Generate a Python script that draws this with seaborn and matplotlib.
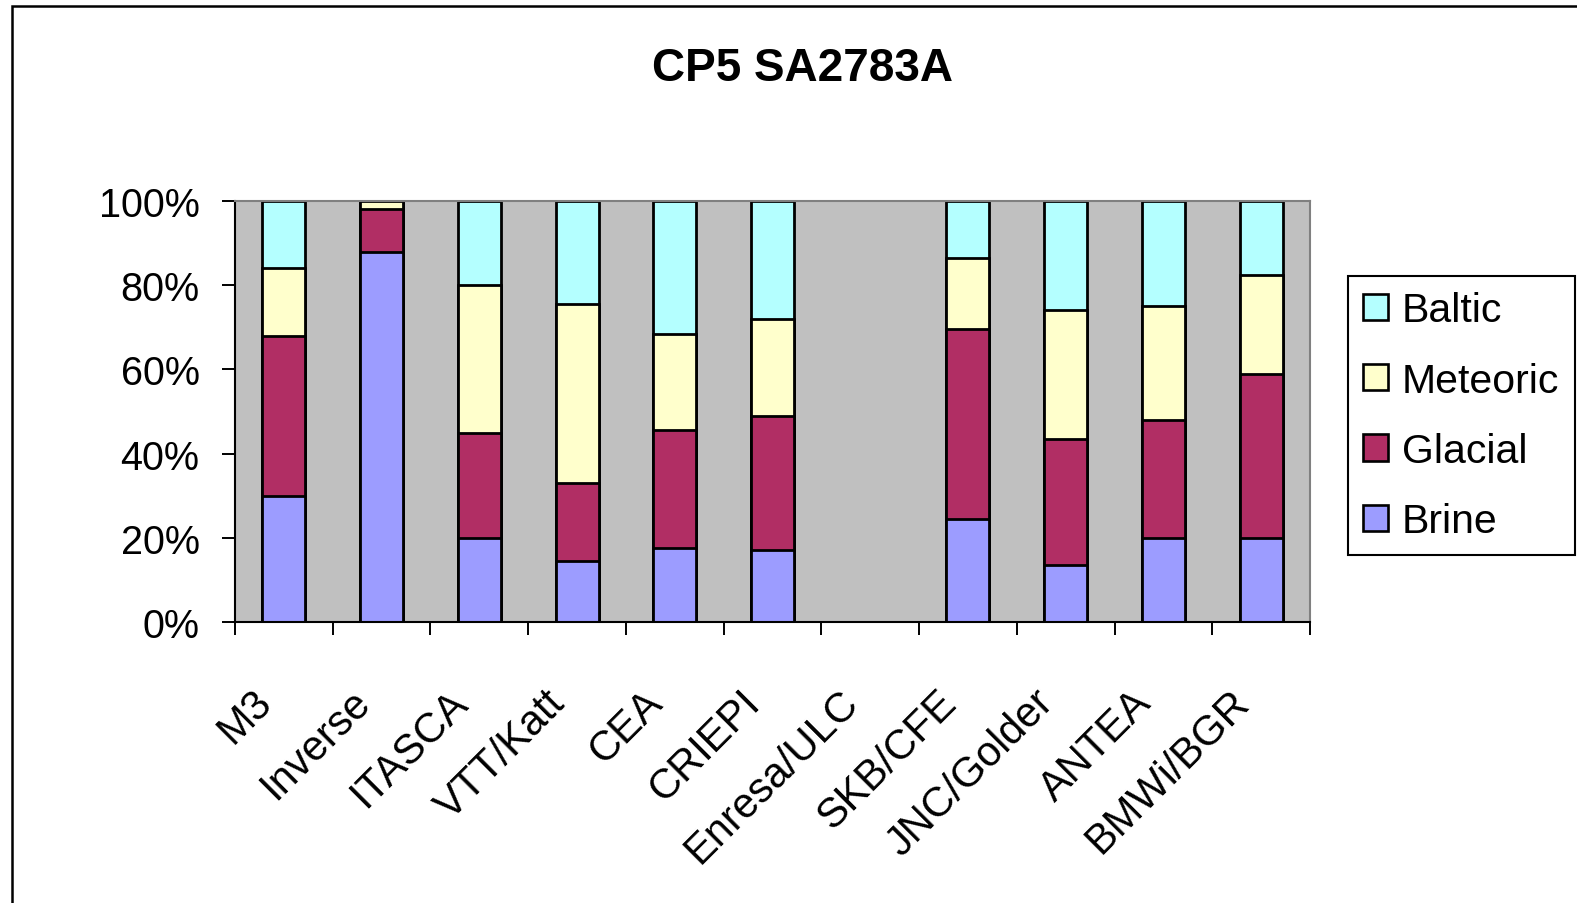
import numpy as np
import matplotlib
matplotlib.use("Agg")
import matplotlib.pyplot as plt
import matplotlib.transforms as mtransforms
from matplotlib.patches import Patch, Rectangle
import seaborn as sns

# Mixing fractions (%) per modelling team
categories = ["M3", "Inverse", "ITASCA", "VTT/Katt", "CEA", "CRIEPI",
              "Enresa/ULC", "SKB/CFE", "JNC/Golder", "ANTEA", "BMWi/BGR"]
brine    = [30.0, 88.0, 20.0, 14.5, 17.5, 17.0, 0.0, 24.5, 13.5, 20.0, 20.0]
glacial  = [38.0, 10.0, 25.0, 18.5, 28.0, 32.0, 0.0, 45.0, 30.0, 28.0, 39.0]
meteoric = [16.0,  2.0, 35.0, 42.5, 23.0, 23.0, 0.0, 17.0, 30.5, 27.0, 23.5]
baltic   = [16.0,  0.0, 20.0, 24.5, 31.5, 28.0, 0.0, 13.5, 26.0, 25.0, 17.5]

series_names = ["Brine", "Glacial", "Meteoric", "Baltic"]
colors = {"Brine": "#9C9CFF", "Glacial": "#B12E64",
          "Meteoric": "#FFFFCC", "Baltic": "#B4FFFF"}
title = "CP5 SA2783A"
ytick_values = [0, 20, 40, 60, 80, 100]
ytick_labels = ["0%", "20%", "40%", "60%", "80%", "100%"]

plt.rcParams["font.family"] = ["Liberation Sans", "DejaVu Sans"]

W, H = 1577, 904
fig = plt.figure(figsize=(W / 100, H / 100), dpi=100)
fig.patch.set_facecolor("white")

# outer chart frame (open on the right and bottom)
fig.add_artist(Rectangle((12 / W, -0.1), 1.2, (1 - 7 / H) + 0.1,
                         transform=fig.transFigure, fill=False,
                         edgecolor="black", linewidth=1.8, clip_on=False))

ax = fig.add_axes([235 / W, 1 - 623 / H, (1310 - 235) / W, (623 - 202) / H])
ax.set_facecolor("#C0C0C0")

# stacked bars: draw cumulative totals from the top segment downwards
layers = [brine, glacial, meteoric, baltic]
cum = np.cumsum(np.array(layers), axis=0)
for idx in range(len(series_names) - 1, -1, -1):
    sns.barplot(x=categories, y=cum[idx], order=categories,
                color=colors[series_names[idx]], saturation=1,
                width=0.44, edgecolor="black", linewidth=2.0,
                errorbar=None, ax=ax)

ax.set_xlim(-0.5, len(categories) - 0.5)
ax.set_ylim(0, 100)
ax.set_xlabel("")
ax.set_ylabel("")

# y axis
ax.set_yticks(ytick_values)
ax.set_yticklabels(ytick_labels, fontsize=28.5)
ax.tick_params(axis="y", length=9.5, width=1.4, direction="out", pad=16,
               colors="black")

# x axis: ticks on category boundaries, labels on category centres
ax.set_xticks(np.arange(-0.5, len(categories)))
ax.set_xticklabels([""] * (len(categories) + 1))
ax.set_xticks(np.arange(len(categories)), minor=True)
ax.set_xticklabels(categories, minor=True, rotation=45, ha="right",
                   va="top", rotation_mode="anchor", fontsize=30)
ax.tick_params(axis="x", which="major", length=9.5, width=1.4,
               direction="out")
ax.tick_params(axis="x", which="minor", length=0, pad=43)
shift = mtransforms.ScaledTranslation(-32 / 100, 0, fig.dpi_scale_trans)
for lab in ax.get_xticklabels(minor=True):
    lab.set_transform(lab.get_transform() + shift)

for side in ["left", "bottom"]:
    ax.spines[side].set_color("black")
    ax.spines[side].set_linewidth(1.5)
for side in ["top", "right"]:
    ax.spines[side].set_color("#808080")
    ax.spines[side].set_linewidth(1.5)

# title
fig.text(802 / W, 1 - 69 / H, title, ha="center", va="center",
         fontsize=33, fontweight="bold")

# legend, listed top segment first
handles = [Patch(facecolor=colors[n], edgecolor="black", linewidth=1.9)
           for n in series_names[::-1]]
leg = fig.legend(handles, series_names[::-1], loc="upper left",
                 bbox_to_anchor=(1348 / W, 1 - 277 / H),
                 bbox_transform=fig.transFigure, fontsize=29.5,
                 frameon=True, fancybox=False, edgecolor="black",
                 framealpha=1, handlelength=0.61, handleheight=0.61,
                 handletextpad=0.34, labelspacing=0.79, borderpad=0.37,
                 borderaxespad=0)
leg.get_frame().set_linewidth(1.5)

fig.savefig("out.png", dpi=100, facecolor="white")
